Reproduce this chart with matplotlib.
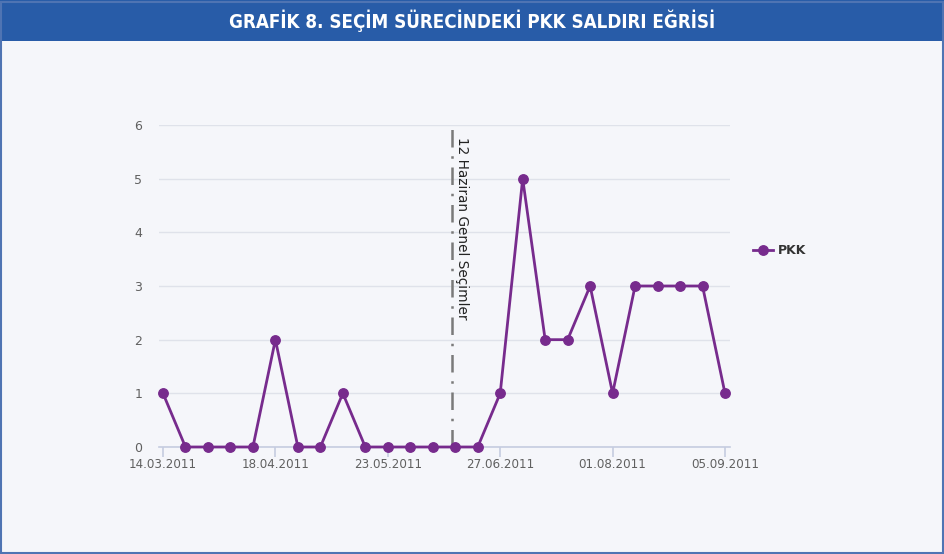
import matplotlib
matplotlib.use("Agg")
import matplotlib.pyplot as plt
import matplotlib.dates as mdates
from matplotlib.lines import Line2D
from matplotlib.patches import Rectangle
from datetime import datetime

weeks = ["14.03.2011", "21.03.2011", "28.03.2011", "04.04.2011", "11.04.2011",
         "18.04.2011", "25.04.2011", "02.05.2011", "09.05.2011", "16.05.2011",
         "23.05.2011", "30.05.2011", "06.06.2011", "13.06.2011", "20.06.2011",
         "27.06.2011", "04.07.2011", "11.07.2011", "18.07.2011", "25.07.2011",
         "01.08.2011", "08.08.2011", "15.08.2011", "22.08.2011", "29.08.2011",
         "05.09.2011"]
pkk = [1, 0, 0, 0, 0, 2, 0, 0, 1, 0, 0, 0, 0, 0, 0, 1, 5, 2, 2, 3, 1, 3, 3, 3, 3, 1]
tick_labels = ["14.03.2011", "18.04.2011", "23.05.2011", "27.06.2011", "01.08.2011", "05.09.2011"]
election = "12.06.2011"
election_label = "12 Haziran Genel Seçimler"
title = "GRAFİK 8. SEÇİM SÜRECİNDEKİ PKK SALDIRI EĞRİSİ"

def d(s):
    return mdates.date2num(datetime.strptime(s, "%d.%m.%Y"))

x = [d(s) for s in weeks]
W, H = 945, 554
bg = "#f5f6fa"
purple = "#772b8d"
axcol = "#c5cce0"

fig = plt.figure(figsize=(W / 100, H / 100), dpi=100, facecolor=bg)

# title bar and frame
fig.patches.append(Rectangle((0, 1 - 41 / H), 1, 41 / H, transform=fig.transFigure,
                             facecolor="#285ca8", edgecolor="none", zorder=0))
fig.patches.append(Rectangle((1 / W, 1 / H), 1 - 2.5 / W, 1 - 2.5 / H, transform=fig.transFigure,
                             facecolor="none", edgecolor="#4f74b3", linewidth=1.5, zorder=5))
fig.text(0.5, 1 - 21 / H, title, ha="center", va="center", color="white",
         fontsize=13.5, fontweight="bold", family="DejaVu Sans", fontstretch="condensed")

ax = fig.add_axes([159 / W, 107 / H, (730 - 159) / W, (447 - 125) / H])
ax.set_facecolor(bg)
span = x[-1] - x[0]
ax.set_xlim(x[0] - span * 4 / 562, x[-1] + span * 5 / 562)
ax.set_ylim(0, 6)
ax.set_yticks(range(0, 7))
ax.grid(axis="y", color="#dfe2ea", linewidth=1)
ax.set_axisbelow(True)
for s in ["top", "right", "left"]:
    ax.spines[s].set_visible(False)
ax.spines["bottom"].set_color(axcol)
ax.spines["bottom"].set_linewidth(1.2)
ax.set_xticks([d(s) for s in tick_labels])
ax.set_xticklabels(tick_labels)
ax.tick_params(axis="x", length=7, color=axcol, width=1.2, labelsize=8.6, labelcolor="#606060", pad=1)
ax.tick_params(axis="y", length=0, labelsize=9, labelcolor="#606060", pad=12)

ax.plot(x, pkk, color=purple, linewidth=2, marker="o", markersize=6.8, clip_on=False, zorder=4)

xe = d(election)
ax.plot([xe, xe], [0, 6], color="#7a7a7a", linewidth=1.8, dashes=(7, 3.5, 1, 3.5), zorder=3)
ax.text(xe + span * 3 / 562, 5.78, election_label, rotation=270, ha="left", va="bottom",
        fontsize=9.8, color="#222222", rotation_mode="anchor")

handle = Line2D([], [], color=purple, linewidth=2, marker="o", markersize=6.8)
leg = fig.legend([handle], ["PKK"], loc="center left", bbox_to_anchor=(742 / W, 1 - 251 / H),
                 frameon=False, handlelength=1.6, handletextpad=0.4,
                 prop={"weight": "bold", "size": 9})
leg.get_texts()[0].set_color("#333333")

fig.savefig("out.png", dpi=100, facecolor=bg)
